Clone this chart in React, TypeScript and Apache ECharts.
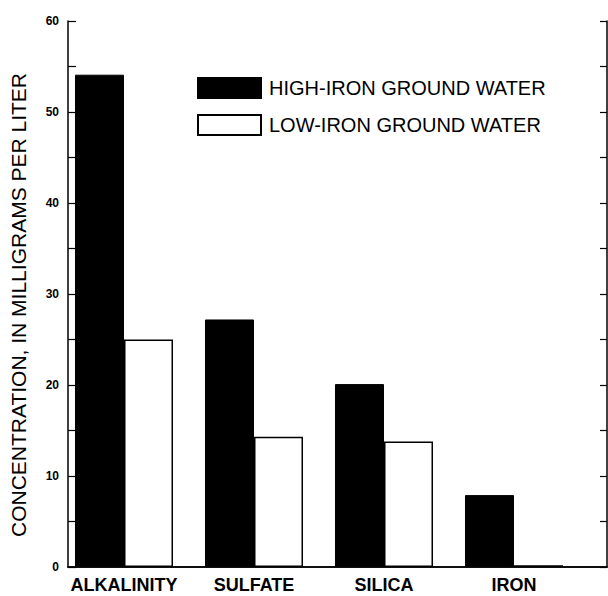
import React, { useEffect, useRef } from "react";
import * as echarts from "echarts";

const categories = ["ALKALINITY", "SULFATE", "SILICA", "IRON"];
const highIron = [54.1, 27.2, 20.1, 7.9];
const lowIron = [25.0, 14.3, 13.8, 0.2];
const seriesNames = ["HIGH-IRON GROUND WATER", "LOW-IRON GROUND WATER"];
const yTitle = "CONCENTRATION, IN MILLIGRAMS PER LITER";

const FONT = "'Liberation Sans', Arial, Helvetica, sans-serif";

export default function App() {
  const ref = useRef<HTMLDivElement>(null);
  useEffect(() => {
    document.body.style.margin = "0";
    const chart = echarts.init(ref.current!, undefined, { renderer: "svg" });
    chart.setOption({
      animation: false,
      backgroundColor: "#fff",
      textStyle: { fontFamily: FONT, color: "#000" },
      grid: [
        { left: 68, top: 21, width: 539, height: 546 },
        { left: 59, top: 21, width: 520, height: 546 },
      ],
      legend: {
        orient: "vertical",
        left: 192,
        top: 72,
        itemWidth: 63,
        itemHeight: 20,
        itemGap: 15,
        icon: "rect",
        textStyle: { fontSize: 20, color: "#000", fontFamily: FONT, padding: [0, 0, 0, 3] },
        data: seriesNames,
      },
      xAxis: [
        {
          gridIndex: 0,
          type: "category",
          data: categories,
          position: "bottom",
          axisLine: { show: true, lineStyle: { color: "#000", width: 1.5 } },
          axisTick: { show: false },
          axisLabel: { show: false },
        },
        {
          gridIndex: 0,
          type: "category",
          data: categories,
          position: "top",
          axisLine: { show: true, lineStyle: { color: "#000", width: 1.5 } },
          axisTick: { show: false },
          axisLabel: { show: false },
        },
        {
          gridIndex: 1,
          type: "category",
          data: categories,
          axisLine: { show: false },
          axisTick: { show: false },
          axisLabel: {
            interval: 0,
            fontSize: 18,
            fontWeight: "bold",
            color: "#000",
            margin: 9,
            fontFamily: FONT,
          },
        },
      ],
      yAxis: [
        {
          gridIndex: 0,
          type: "value",
          position: "left",
          min: 0,
          max: 60,
          interval: 5,
          axisLine: { show: true, lineStyle: { color: "#000", width: 1.5 } },
          axisTick: { show: true, inside: true, length: 8, lineStyle: { color: "#000", width: 1.2 } },
          axisLabel: {
            fontSize: 12,
            fontWeight: "bold",
            color: "#000",
            margin: 9,
            fontFamily: FONT,
            formatter: (v: number) => (v % 10 === 0 ? String(v) : ""),
          },
          splitLine: { show: false },
        },
        {
          gridIndex: 0,
          type: "value",
          position: "right",
          min: 0,
          max: 60,
          interval: 5,
          axisLine: { show: true, lineStyle: { color: "#000", width: 1.5 } },
          axisTick: { show: true, inside: true, length: 7, lineStyle: { color: "#000", width: 1.2 } },
          axisLabel: { show: false },
          splitLine: { show: false },
        },
        {
          gridIndex: 1,
          type: "value",
          min: 0,
          max: 60,
          show: false,
          splitLine: { show: false },
        },
      ],
      series: [
        {
          name: seriesNames[0],
          type: "bar",
          xAxisIndex: 2,
          yAxisIndex: 2,
          data: highIron,
          barGap: "0%",
          barCategoryGap: "24.6%",
          itemStyle: { color: "#000", borderColor: "#000", borderWidth: 1 },
        },
        {
          name: seriesNames[1],
          type: "bar",
          xAxisIndex: 2,
          yAxisIndex: 2,
          data: lowIron,
          barGap: "0%",
          barCategoryGap: "24.6%",
          itemStyle: { color: "#fff", borderColor: "#000", borderWidth: 1.5 },
        },
      ],
      graphic: [
        {
          type: "text",
          x: 18,
          y: 305,
          rotation: Math.PI / 2,
          style: {
            text: yTitle,
            fontSize: 21,
            fontFamily: FONT,
            fill: "#000",
            align: "center",
            verticalAlign: "middle",
          },
        },
      ],
    });
    return () => chart.dispose();
  }, []);
  return <div ref={ref} style={{ width: 608, height: 596 }} />;
}
